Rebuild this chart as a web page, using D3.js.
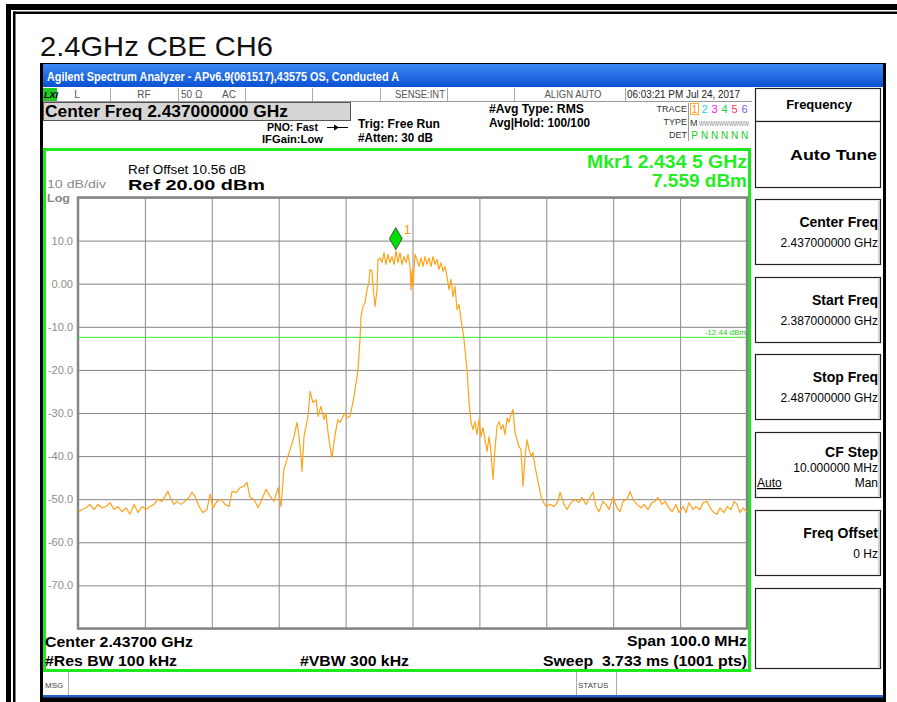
<!DOCTYPE html>
<html>
<head>
<meta charset="utf-8">
<script src="https://cdn.jsdelivr.net/npm/d3@7"></script>
<style>
body { margin: 0; background: #fff; }
svg { display: block; font-family: "Liberation Sans", Arial, sans-serif; }
</style>
</head>
<body>
<svg id="chart" width="897" height="702"></svg>
<script>
// sweep settings
var startMHz = 2387, stopMHz = 2487;
var freqGridMHz = [2387, 2397, 2407, 2417, 2427, 2437, 2447, 2457, 2467, 2477, 2487];
var levelGrid = [20, 10, 0, -10, -20, -30, -40, -50, -60, -70, -80];
var displayLine = -12.44;
var markerMHz = 2434.5, markerDbm = 7.559;

// trace 1 (offset from start freq, MHz / dBm)
var freqOffsetMHz = [0.00,0.60,1.20,1.79,2.39,2.99,3.59,4.19,4.78,5.38,5.98,6.58,7.18,7.77,8.37,8.97,9.57,10.16,10.76,11.36,
  11.96,12.56,13.00,13.45,13.90,14.35,14.80,15.40,15.99,16.59,17.04,17.49,18.09,18.68,19.28,19.73,20.18,20.78,21.38,21.97,
  22.57,23.02,23.62,24.22,24.81,25.26,25.71,26.31,26.91,27.50,28.10,28.70,29.30,29.90,30.34,30.79,31.39,31.84,32.29,32.74,
  33.04,33.33,33.48,33.78,34.08,34.38,34.68,35.13,35.58,35.88,36.32,36.77,37.07,37.37,37.67,37.97,38.27,38.57,38.86,39.16,
  39.61,39.91,40.21,40.66,40.96,41.26,41.56,41.85,42.15,42.30,42.60,42.90,43.20,43.50,43.65,43.95,44.10,44.40,44.69,44.84,
  45.14,45.44,45.74,46.04,46.34,46.64,46.94,47.24,47.53,47.83,48.13,48.43,48.73,49.03,49.33,49.63,49.78,49.93,50.08,50.37,
  50.67,50.97,51.27,51.57,51.87,52.17,52.47,52.77,53.07,53.36,53.66,53.96,54.26,54.56,54.86,55.16,55.46,55.76,56.06,56.35,
  56.65,56.95,57.25,57.55,57.70,58.15,58.30,58.45,58.75,59.04,59.34,59.64,59.94,60.24,60.54,60.84,61.14,61.44,61.74,62.03,
  62.33,62.63,62.93,63.23,63.53,63.83,64.13,64.43,64.73,65.02,65.32,65.62,65.92,66.22,66.52,66.82,67.12,67.42,67.72,68.01,
  68.31,68.61,68.91,69.21,69.51,69.96,70.55,71.15,71.75,72.05,72.65,73.10,73.69,74.29,74.89,75.34,75.94,76.38,76.98,77.43,
  77.88,78.48,78.93,79.37,79.97,80.57,81.02,81.47,82.07,82.51,83.11,83.56,84.16,84.61,85.20,85.80,86.25,86.70,87.30,87.75,
  88.34,88.79,89.39,89.84,90.44,90.89,91.33,91.93,92.38,92.98,93.43,94.03,94.47,94.92,95.52,95.97,96.57,97.02,97.62,98.06,
  98.51,98.96,99.41,100.00];
var levelDbm = [-53.1,-52.4,-52.0,-51.2,-52.4,-51.2,-52.0,-51.7,-50.8,-52.4,-51.7,-52.9,-52.0,-53.5,-51.2,-53.1,-51.7,-52.4,-51.7,-51.2,
  -50.0,-50.5,-49.3,-48.2,-50.0,-51.2,-50.5,-51.2,-50.5,-49.6,-48.4,-49.3,-51.7,-53.1,-52.4,-48.8,-52.0,-50.5,-50.0,-51.2,
  -51.7,-48.2,-48.4,-47.3,-47.0,-46.1,-49.6,-50.0,-52.0,-50.0,-47.7,-49.3,-50.5,-47.3,-51.7,-43.0,-40.0,-37.8,-35.5,-32.2,
  -35.5,-40.0,-43.6,-35.5,-33.1,-30.8,-25.0,-27.6,-26.9,-30.8,-28.5,-31.5,-30.0,-34.5,-37.8,-40.3,-36.8,-33.8,-31.5,-32.2,
  -30.8,-30.0,-31.1,-30.8,-28.5,-26.2,-23.0,-20.0,-13.0,-7.6,-5.3,-4.4,-1.4,0.5,3.3,2.9,-0.6,-5.3,-1.4,5.6,
  6.0,4.9,7.2,4.5,6.8,4.9,6.3,4.5,7.6,4.9,7.2,4.5,6.3,4.9,6.8,4.0,-1.4,3.3,-0.6,6.8,
  5.6,4.0,6.0,4.0,6.3,4.5,6.0,4.0,6.3,4.5,5.6,3.3,4.9,2.9,4.0,1.7,-1.4,1.0,-3.0,-0.6,
  -6.0,-4.8,-8.3,-11.3,-13.0,-20.0,-23.8,-27.6,-32.2,-33.8,-32.0,-35.0,-31.5,-35.5,-33.4,-36.2,-38.9,-35.5,-39.2,-45.4,
  -38.5,-33.1,-32.0,-33.8,-32.7,-35.0,-31.1,-32.2,-30.3,-29.2,-34.5,-36.2,-37.8,-38.5,-47.0,-40.0,-36.2,-38.5,-40.0,-39.2,
  -42.4,-44.7,-47.0,-49.3,-50.5,-51.7,-51.2,-51.7,-50.5,-48.4,-51.2,-52.4,-50.8,-50.0,-50.8,-49.6,-51.2,-50.0,-48.4,-51.7,
  -52.9,-50.5,-51.2,-52.4,-49.6,-52.0,-52.9,-50.5,-50.0,-48.2,-50.5,-51.2,-52.0,-51.2,-52.4,-50.8,-50.5,-49.6,-51.2,-50.5,
  -52.0,-52.9,-51.2,-53.1,-51.7,-53.1,-50.8,-52.4,-51.7,-52.4,-50.8,-50.5,-52.0,-52.9,-53.5,-52.0,-53.1,-51.7,-52.4,-50.5,
  -51.2,-53.1,-52.0,-52.9];

// softkey panel
var softkeyLabels = ["Center Freq", "Start Freq", "Stop Freq", "CF Step", "Freq Offset"];
var softkeyValues = ["2.437000000 GHz", "2.387000000 GHz", "2.487000000 GHz", "10.000000 MHz", "0 Hz"];
var softkeyTops = [199, 277, 354, 432, 510, 588];

var trace = freqOffsetMHz.map(function(d, i) { return {f: startMHz + d, v: levelDbm[i]}; });

var svg = d3.select("#chart");

function txt(x, y, s, o) {
  o = o || {};
  var t = svg.append("text").attr("x", x).attr("y", y).text(s)
    .attr("font-size", o.size || 12)
    .attr("font-weight", o.bold ? "bold" : "normal")
    .attr("fill", o.fill || "#000")
    .attr("text-anchor", o.anchor || "start")
    .style("white-space", "pre");
  if (o.w) t.attr("textLength", o.w).attr("lengthAdjust", "spacingAndGlyphs");
  if (o.italic) t.attr("font-style", "italic");
  return t;
}
function box(x, y, w, h, fill, stroke, sw) {
  return svg.append("rect").attr("x", x).attr("y", y).attr("width", w).attr("height", h)
    .attr("fill", fill || "none").attr("stroke", stroke || "none").attr("stroke-width", sw || 1);
}
function vline(x, y1, y2, c) {
  svg.append("line").attr("x1", x).attr("x2", x).attr("y1", y1).attr("y2", y2).attr("stroke", c || "#aaa");
}

// page frame
box(6, 4, 891, 6, "#000");
box(6, 4, 5, 698, "#000");
box(13, 11.5, 884, 2.5, "#000");
box(13, 11.5, 2.5, 691, "#000");
txt(40, 56, "2.4GHz CBE CH6", {size: 28, w: 233, fill: "#111"});

// analyzer window
box(40, 63, 846, 639, "#000");
var defs = svg.append("defs");
var grad = defs.append("linearGradient").attr("id", "tb").attr("x1", 0).attr("x2", 0).attr("y1", 0).attr("y2", 1);
grad.append("stop").attr("offset", "0%").attr("stop-color", "#3d8af5");
grad.append("stop").attr("offset", "100%").attr("stop-color", "#0a50d2");
box(43, 64, 840, 23, "url(#tb)");
box(43, 87, 840, 608, "#fff");
box(43, 695, 840, 2.5, "#2a62c9");
txt(47, 81, "Agilent Spectrum Analyzer - APv6.9(061517),43575 OS, Conducted A", {size: 12, bold: true, fill: "#fff", w: 352});

// status row
svg.append("line").attr("x1", 43).attr("x2", 752).attr("y1", 101.5).attr("y2", 101.5).attr("stroke", "#999");
[110.5, 178.5, 245.5, 312.5, 380.5, 447.5, 514.5, 625.5].forEach(function(px) { vline(px, 88, 101, "#aaa"); });
box(43, 88, 14, 13, "#22cc22");
txt(44, 98, "LXI", {size: 9, bold: true, italic: true});
txt(77, 98, "L", {size: 10, fill: "#555", anchor: "middle"});
txt(144, 98, "RF", {size: 10, fill: "#555", anchor: "middle"});
txt(181, 98, "50 \u03A9", {size: 10, fill: "#555"});
txt(229, 98, "AC", {size: 10, fill: "#555", anchor: "middle"});
txt(445, 98, "SENSE:INT", {size: 10, fill: "#555", anchor: "end", w: 50});
txt(573, 98, "ALIGN AUTO", {size: 10, fill: "#555", anchor: "middle", w: 57});
txt(627, 98, "06:03:21 PM Jul 24, 2017", {size: 10, fill: "#222", w: 113});

// header block
box(43.5, 102.5, 307, 18, "#d6d6d6", "#555");
txt(45, 117, "Center Freq 2.437000000 GHz", {size: 16, bold: true, w: 243});
txt(267, 131, "PNO: Fast", {size: 11, bold: true, w: 51});
svg.append("line").attr("x1", 327).attr("x2", 348).attr("y1", 127.5).attr("y2", 127.5).attr("stroke", "#000");
svg.append("path").attr("d", "M334,124.5 L339,127.5 L334,130.5 Z").attr("fill", "#000");
txt(262, 143, "IFGain:Low", {size: 11, bold: true, w: 61});
txt(358, 128, "Trig: Free Run", {size: 12, bold: true, w: 82});
txt(358, 142, "#Atten: 30 dB", {size: 12, bold: true, w: 75});
txt(489, 113, "#Avg Type: RMS", {size: 12, bold: true, w: 95});
txt(489, 127, "Avg|Hold: 100/100", {size: 12, bold: true, w: 101});

// trace info block
vline(688.5, 103, 141, "#999");
txt(687, 112, "TRACE", {size: 9, fill: "#333", anchor: "end"});
txt(687, 125, "TYPE", {size: 9, fill: "#333", anchor: "end"});
txt(687, 138, "DET", {size: 9, fill: "#333", anchor: "end"});
var traceNums = ["1", "2", "3", "4", "5", "6"];
var traceCols = ["#ff9900", "#22ccee", "#ee22ee", "#22cc44", "#ff3366", "#7755ee"];
box(690.5, 103.5, 8, 11, "none", "#ff9900", 0.8);
traceNums.forEach(function(n, i) {
  txt(694.5 + i * 10, 113, n, {size: 11, fill: traceCols[i], anchor: "middle"});
  txt(694.5 + i * 10, 139, i === 0 ? "P" : "N", {size: 10, fill: "#22cc22", anchor: "middle"});
});
txt(690, 126, "M", {size: 9, fill: "#333"});
txt(699, 126, "WWWWWWWWWW", {size: 7, fill: "#888", w: 50});

// plot frame
box(44.5, 149.5, 705, 521, "none", "#1ee81e", 3);
txt(747, 168, "Mkr1 2.434 5 GHz", {size: 18, bold: true, fill: "#22ee22", anchor: "end", w: 160});
txt(747, 187, "7.559 dBm", {size: 18, bold: true, fill: "#22ee22", anchor: "end", w: 95});
txt(128, 174, "Ref Offset 10.56 dB", {size: 12, w: 118});
txt(128, 190, "Ref 20.00 dBm", {size: 14, bold: true, w: 137});
txt(47, 188, "10 dB/div", {size: 11, fill: "#888", w: 59});
txt(47, 202, "Log", {size: 11, bold: true, fill: "#888", w: 23});

var x = d3.scaleLinear().domain([startMHz, stopMHz]).range([78, 747]);
var y = d3.scaleLinear().domain([-80, 20]).range([628.5, 197.5]);

var gx = svg.append("g").attr("transform", "translate(0,628.5)")
  .call(d3.axisBottom(x).tickValues(freqGridMHz).tickSize(-(628.5 - 197.5)).tickFormat(""));
gx.select(".domain").remove();
gx.selectAll("line").attr("stroke", "#8a8a8a");

var fmt = function(d) {
  if (d === 20 || d === -80) return "";
  return d === 0 ? "0.00" : d.toFixed(1);
};
var gy = svg.append("g").attr("transform", "translate(78,0)")
  .call(d3.axisLeft(y).tickValues(levelGrid).tickSize(-(747 - 78)).tickPadding(5).tickFormat(fmt));
gy.select(".domain").remove();
gy.selectAll("line").attr("stroke", "#858585");
gy.selectAll("text").attr("fill", "#8c8c8c").attr("font-size", 11)
  .attr("font-family", "\"Liberation Sans\", Arial, sans-serif");

box(78, 197.5, 669, 431, "none", "#858585", 2.5);

// display line
svg.append("line").attr("x1", 78).attr("x2", 747)
  .attr("y1", y(displayLine)).attr("y2", y(displayLine))
  .attr("stroke", "#33ee33").attr("stroke-width", 1);
txt(746, y(displayLine) - 2, "-12.44 dBm", {size: 8, fill: "#22cc22", anchor: "end"});

// trace
var line = d3.line()
  .x(function(d) { return x(d.f); })
  .y(function(d) { return y(d.v); });
svg.append("path").datum(trace)
  .attr("fill", "none")
  .attr("stroke", "#ffa31a")
  .attr("stroke-width", 1.2)
  .attr("stroke-linejoin", "round")
  .attr("d", line);

// marker 1
svg.append("path")
  .attr("d", d3.symbol().type(d3.symbolDiamond).size(140)())
  .attr("transform", "translate(" + x(markerMHz) + "," + (y(markerDbm) - 12.5) + ")")
  .attr("fill", "#00e000").attr("stroke", "#333").attr("stroke-width", 0.8);
txt(x(markerMHz) + 8, y(markerDbm) - 17, "1", {size: 13, fill: "#ff9900"});

// bottom annotations
txt(45, 647, "Center 2.43700 GHz", {size: 15, bold: true, w: 148});
txt(45, 666, "#Res BW 100 kHz", {size: 15, bold: true, w: 132});
txt(300, 666, "#VBW 300 kHz", {size: 15, bold: true, w: 109});
txt(747, 646, "Span 100.0 MHz", {size: 15, bold: true, anchor: "end", w: 120});
txt(747, 666, "Sweep  3.733 ms (1001 pts)", {size: 15, bold: true, anchor: "end", w: 204});

// message bar
vline(68.5, 672, 695, "#aaa");
vline(576.5, 672, 695, "#aaa");
vline(616.5, 672, 695, "#aaa");
txt(45, 688, "MSG", {size: 8, fill: "#444"});
txt(578, 688, "STATUS", {size: 8, fill: "#444"});

// softkeys
box(755.5, 88.5, 125, 33, "#fff", "#222", 1.2);
box(755.5, 121.5, 125, 66, "#fff", "#222", 1.2);
txt(819, 109, "Frequency", {size: 13, bold: true, anchor: "middle"});
txt(877, 160, "Auto Tune", {size: 15, bold: true, anchor: "end", w: 87});
softkeyTops.forEach(function(t, i) {
  var h = i === 5 ? 80 : 65;
  box(755.5, t + 0.5, 125, h, "#fff", "#222", 1.2);
  svg.append("line").attr("x1", 879).attr("x2", 879).attr("y1", t + 2).attr("y2", t + h - 1).attr("stroke", "#aaa");
  if (i >= softkeyLabels.length) return;
  if (softkeyLabels[i] === "CF Step") {
    txt(878, t + 25, softkeyLabels[i], {size: 14, bold: true, anchor: "end"});
    txt(878, t + 40, softkeyValues[i], {size: 12, anchor: "end"});
    txt(757, t + 55, "Auto", {size: 12}).attr("text-decoration", "underline");
    txt(878, t + 55, "Man", {size: 12, anchor: "end"});
  } else {
    txt(878, t + 28, softkeyLabels[i], {size: 14, bold: true, anchor: "end"});
    txt(878, t + 48, softkeyValues[i], {size: 12, anchor: "end"});
  }
});
</script>
</body>
</html>
